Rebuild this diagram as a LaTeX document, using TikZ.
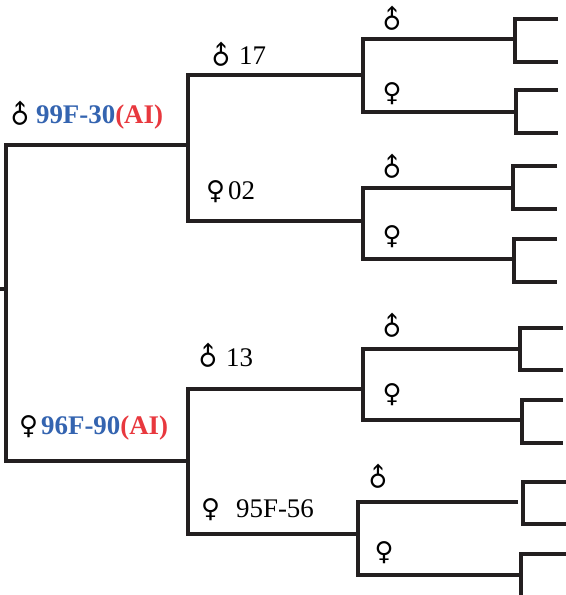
\documentclass[tikz,border=0pt]{standalone}
\usepackage{fontspec}
\setmainfont{Liberation Serif}
\newfontfamily\symfont{DejaVu Sans}
\definecolor{IdBlue}{RGB}{52,100,176}
\definecolor{AiRed}{RGB}{232,56,62}
\definecolor{LineColor}{RGB}{35,31,32}
\usetikzlibrary{positioning, calc}
\newcommand{\malesym}{\rotatebox[origin=c]{45}{\symfont ♂}}
\newcommand{\femalesym}{{\symfont ♀}}
\newcommand{\symsize}{\fontsize{26}{30}\selectfont}

\begin{document}
\begin{tikzpicture}[x=1bp, y=-1bp,
    pedline/.style={draw=LineColor, line width=3.2bp},
    idlbl/.style={anchor=base west, inner sep=0pt, font=\fontsize{27}{30}\selectfont\bfseries},
    numlbl/.style={anchor=base west, inner sep=0pt, font=\fontsize{27}{30}\selectfont},
    sexsym/.style={inner sep=0pt, font=\symsize}]
  \clip (0,0) rectangle (566,595);
  % generation 1
  \coordinate (root) at (0,289);
  \coordinate (f0) at (6,289);
  \coordinate (s) at (188,145);
  \coordinate (d) at (188,461);
  \draw[pedline] (root) -- (f0);
  \draw[pedline] (s) -| (f0) |- (d);
  \node[idlbl] (sLbl) at (5,124) {{\symsize\malesym}\hspace{1bp}\textcolor{IdBlue}{99F-30}\textcolor{AiRed}{(AI)}};
  \node[idlbl] (dLbl) at (19,434) {{\symsize\femalesym}\hspace{3bp}\textcolor{IdBlue}{96F-90}\textcolor{AiRed}{(AI)}};
  % generation 2
  \coordinate (ss) at (363,75);
  \coordinate (sd) at (363,221);
  \coordinate (ds) at (363,389);
  \coordinate (dd) at (358,534);
  \draw[pedline] (ss) -| (s) |- (sd);
  \draw[pedline] (ds) -| (d) |- (dd);
  \node[numlbl] (ssLbl) at (206,65) {{\symsize\malesym}\hspace{3bp}17};
  \node[numlbl] (sdLbl) at (206,199) {{\symsize\femalesym}\hspace{3bp}02};
  \node[numlbl] (dsLbl) at (193,366) {{\symsize\malesym}\hspace{3bp}13};
  \node[numlbl] (ddLbl) at (201,517) {{\symsize\femalesym}\hspace{16bp}95F-56};
  % generation 3
  \coordinate (sss) at (515,39);
  \coordinate (ssd) at (516,112);
  \coordinate (sds) at (513,188);
  \coordinate (sdd) at (514,259);
  \coordinate (dss) at (520,349);
  \coordinate (dsd) at (522,420);
  \coordinate (dds) at (523,502);
  \coordinate (ddsEnd) at (518,502);
  \coordinate (ddd) at (521,575);
  \draw[pedline] (sss) -| (ss) |- (ssd);
  \draw[pedline] (sds) -| (sd) |- (sdd);
  \draw[pedline] (dss) -| (ds) |- (dsd);
  \draw[pedline] (ddsEnd) -| (dd) |- (ddd);
  \foreach \n/\x/\y/\sym in {sss/392/20/\malesym, ssd/392/94/\femalesym,
      sds/392/168/\malesym, sdd/392/237/\femalesym,
      dss/392/327/\malesym, dsd/392/395/\femalesym,
      dds/378/478/\malesym, ddd/384/553/\femalesym}
    \node[sexsym] (\n Lbl) at (\x,\y) {\sym};
  % generation 4
  \foreach \n/\ya/\yb/\xe in {sss/19/62/558, ssd/90/133/558,
      sds/166/209/557, sdd/239/282/557,
      dss/328/370/563, dsd/400/443/563,
      dds/482/524/566, ddd/554/597/566} {
    \coordinate (\n a) at (\xe,\ya);
    \coordinate (\n b) at (\xe,\yb);
    \draw[pedline] (\n a) -| (\n) |- (\n b);
  }
\end{tikzpicture}
\end{document}
